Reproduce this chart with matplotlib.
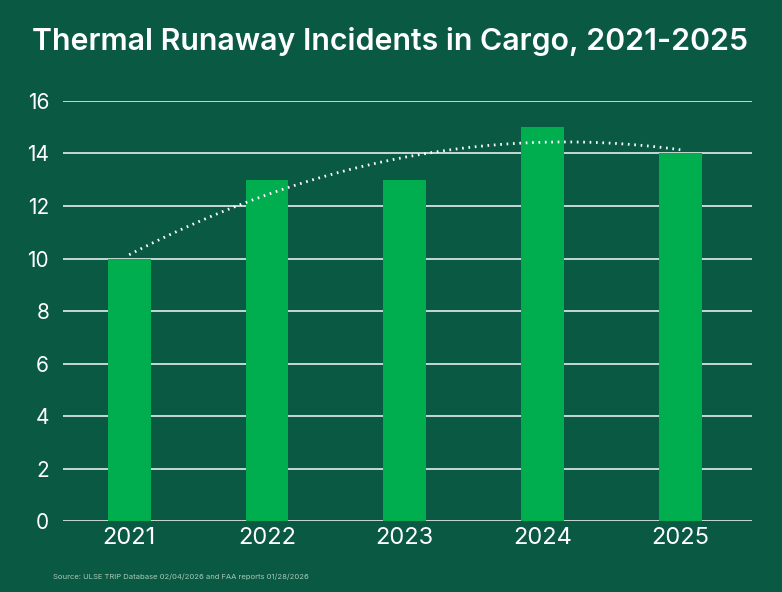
import numpy as np
import matplotlib.pyplot as plt

years = ['2021', '2022', '2023', '2024', '2025']
incidents = [10, 13, 13, 15, 14]
yticks = [0, 2, 4, 6, 8, 10, 12, 14, 16]

bg = '#0a5a43'
bar_col = '#00ad4f'

plt.rcParams['font.family'] = ['Inter', 'DejaVu Sans']

fig = plt.figure(figsize=(7.82, 5.92), dpi=100, facecolor=bg)
ax = fig.add_axes([0.0806, 0.1199, 0.881, 0.7095])
ax.set_facecolor(bg)

x = np.arange(len(years))
ax.bar(x, incidents, width=0.31, color=bar_col, zorder=3)

# polynomial trendline (order 2) fitted to the counts
coef = np.polyfit(x, incidents, 2)
xs = np.linspace(x[0], x[-1], 200)
ax.plot(xs, np.polyval(coef, xs), color='white', lw=2.0, ls=(0, (0.6, 1.7)),
        dash_capstyle='butt', zorder=4)

ax.set_xlim(-0.48, 4.52)
ax.set_ylim(0, 16)
ax.set_yticks(yticks)
ax.set_yticklabels([str(t) for t in yticks])
ax.set_xticks(x)
ax.set_xticklabels(years)
for t in yticks:
    ax.axhline(t, color='white', lw=1.2, alpha=0.9, zorder=1)

for s in ax.spines.values():
    s.set_visible(False)
ax.tick_params(axis='both', length=0, colors='white')
ax.tick_params(axis='y', labelsize=15, pad=10)
ax.tick_params(axis='x', labelsize=17, pad=4)

fig.text(0.041, 0.930, 'Thermal Runaway Incidents in Cargo, 2021-2025',
         color='white', fontsize=21.8, fontweight='semibold', va='center', ha='left')
fig.text(0.068, 0.025, 'Source: ULSE TRIP Database 02/04/2026 and FAA reports 01/28/2026',
         color='#a8c9b8', fontsize=5.5, va='center', ha='left')

fig.savefig('out.png', dpi=100, facecolor=bg)
